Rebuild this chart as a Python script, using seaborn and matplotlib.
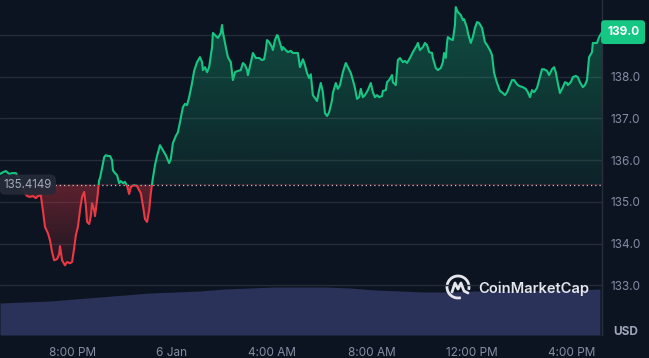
import numpy as np
import pandas as pd
import seaborn as sns
import matplotlib.pyplot as plt
import matplotlib.dates as mdates
import matplotlib.transforms as mtransforms
from matplotlib.colors import LinearSegmentedColormap
from matplotlib.patches import Rectangle, Arc
from matplotlib.lines import Line2D

# price samples: minutes after 5:00 PM (5 Jan) and price in USD
minutes = [7, 14, 21, 29, 36, 45, 55, 65, 72, 79,
           86, 93, 98, 105, 110, 115, 122, 127, 132, 137,
           144, 149, 151, 156, 163, 168, 175, 180, 185, 189,
           194, 199, 204, 209, 213, 216, 221, 225, 228, 233,
           235, 240, 245, 247, 252, 257, 261, 266, 271, 276,
           278, 283, 288, 293, 297, 302, 307, 312, 317, 321,
           329, 336, 341, 345, 350, 355, 360, 365, 369, 374,
           379, 384, 391, 398, 405, 413, 417, 422, 429, 434,
           439, 446, 451, 456, 461, 468, 473, 480, 487, 492,
           494, 499, 504, 509, 516, 518, 523, 530, 537, 540,
           542, 549, 554, 561, 566, 571, 578, 585, 590, 595,
           600, 602, 612, 614, 621, 629, 636, 641, 645, 648,
           653, 660, 662, 667, 672, 674, 679, 684, 686, 693,
           698, 705, 710, 717, 722, 727, 734, 739, 744, 749,
           753, 758, 763, 768, 773, 777, 782, 787, 792, 797,
           804, 806, 813, 818, 823, 830, 837, 842, 849, 854,
           859, 864, 869, 873, 878, 883, 890, 897, 902, 907,
           912, 917, 924, 926, 933, 936, 941, 948, 950, 957,
           962, 967, 974, 979, 984, 991, 998, 1008, 1010, 1015,
           1022, 1027, 1032, 1037, 1044, 1046, 1053, 1058, 1065, 1070,
           1073, 1077, 1080, 1082, 1089, 1094, 1099, 1101, 1106, 1113,
           1118, 1121, 1128, 1130, 1137, 1142, 1147, 1152, 1157, 1164,
           1166, 1171, 1176, 1183, 1188, 1193, 1200, 1207, 1214, 1219,
           1224, 1229, 1236, 1241, 1248, 1253, 1262, 1269, 1274, 1279,
           1284, 1289, 1296, 1301, 1308, 1313, 1320, 1325, 1332, 1337,
           1341, 1346, 1351, 1358, 1363, 1368, 1370, 1377, 1382, 1389,
           1394, 1399, 1406, 1411, 1416, 1421, 1428, 1430, 1440, 1445,
           1452]
prices = [135.67, 135.71, 135.74, 135.67, 135.69, 135.69, 135.52, 135.24, 135.14, 135.12,
          135.14, 135.09, 135.14, 135.16, 134.80, 134.40, 134.25, 134.08, 133.80, 133.60,
          133.63, 133.75, 133.94, 133.60, 133.48, 133.56, 133.53, 133.56, 133.89, 134.20,
          134.40, 134.80, 135.12, 135.24, 134.92, 134.52, 134.47, 134.66, 134.97, 134.80,
          134.66, 135.04, 135.52, 135.57, 135.81, 136.07, 136.12, 136.10, 136.10, 136.00,
          135.76, 135.69, 135.64, 135.45, 135.50, 135.45, 135.48, 135.38, 135.19, 135.36,
          135.40, 135.38, 135.28, 135.21, 134.92, 134.59, 134.52, 134.80, 135.21, 135.57,
          135.88, 136.10, 136.36, 136.24, 136.12, 135.93, 136.03, 136.41, 136.58, 136.67,
          136.91, 137.27, 137.35, 137.32, 137.51, 137.85, 138.14, 138.35, 138.47, 138.35,
          138.16, 138.23, 138.11, 138.23, 138.71, 139.05, 139.00, 138.93, 139.05, 139.24,
          139.07, 138.71, 138.47, 138.35, 137.92, 138.11, 138.14, 138.16, 138.33, 138.28,
          138.16, 138.04, 138.47, 138.57, 138.45, 138.45, 138.40, 138.42, 138.64, 138.88,
          138.83, 138.71, 138.64, 138.88, 139.00, 138.98, 138.81, 138.64, 138.71, 138.64,
          138.59, 138.62, 138.57, 138.57, 138.57, 138.23, 138.42, 138.28, 138.09, 137.97,
          138.06, 137.56, 137.49, 137.42, 137.68, 137.85, 137.63, 137.13, 137.06, 137.15,
          137.44, 137.61, 137.85, 137.71, 137.80, 138.11, 138.33, 138.23, 138.09, 137.92,
          137.73, 137.47, 137.51, 137.71, 137.51, 137.56, 137.68, 137.85, 137.63, 137.51,
          137.56, 137.51, 137.54, 137.66, 137.68, 137.87, 137.92, 138.04, 137.87, 137.80,
          138.40, 138.45, 138.35, 138.38, 138.33, 138.45, 138.59, 138.76, 138.81, 138.64,
          138.71, 138.81, 138.76, 138.59, 138.57, 138.45, 138.21, 138.16, 138.21, 138.35,
          138.57, 138.45, 138.81, 138.95, 138.90, 138.88, 139.24, 139.67, 139.55, 139.48,
          139.36, 139.38, 139.17, 139.05, 138.81, 138.95, 139.17, 139.31, 139.29, 139.17,
          139.07, 138.83, 138.76, 138.64, 138.52, 138.09, 137.85, 137.66, 137.61, 137.56,
          137.63, 137.75, 137.92, 137.92, 137.82, 137.78, 137.75, 137.71, 137.63, 137.51,
          137.68, 137.63, 137.73, 137.92, 138.18, 138.18, 138.14, 138.04, 138.18, 138.23,
          138.11, 137.85, 137.61, 137.75, 137.87, 137.85, 137.80, 137.87, 137.99, 138.02,
          137.99, 137.87, 137.75, 137.80, 137.92, 138.47, 138.59, 138.81, 138.81, 138.95,
          139.07]

# hourly volume (relative units), starting 5:07 PM
vol_minutes = list(range(7, 1448, 60))
volume = [32, 33, 34, 36, 38, 40, 42, 43, 44, 46, 47, 48, 48,
          48, 47, 45, 44, 43, 43, 44, 44, 44, 45, 45, 46]

base_price = 135.4149
last_label = '139.0'
y_ticks = [133, 134, 135, 136, 137, 138, 139]

bg = '#0d1421'
green = '#16c784'
red = '#ea3943'
grid_c = '#262b38'
text_c = '#858ca2'

sns.set_theme(style='dark')
plt.rcParams['font.family'] = ['Inter', 'DejaVu Sans']

start = pd.Timestamp('2025-01-05 17:00')
df = pd.DataFrame({'time': start + pd.to_timedelta(minutes, unit='min'), 'price': prices})
vol = pd.DataFrame({'time': start + pd.to_timedelta(vol_minutes, unit='min'), 'volume': volume})

fig = plt.figure(figsize=(6.49, 3.58), dpi=100, facecolor=bg)
axv = fig.add_axes([0, 23 / 358, 602 / 649, 52 / 358])
ax = fig.add_axes([0, 23 / 358, 602 / 649, 335 / 358], sharex=axv)
axv.set_zorder(0)
ax.set_zorder(1)
ax.patch.set_alpha(0)
axv.set_facecolor(bg)

# volume strip
axv.fill_between(vol['time'], vol['volume'], color='#2a3259', lw=0)
axv.set_ylim(0, 52)
axv.axis('off')

x0 = mdates.date2num(df['time'].iloc[0])
x1 = mdates.date2num(df['time'].iloc[-1])
ytop, ybot = 139.84, 131.81

# gradient fills clipped to the area between price and baseline
poly = ax.fill_between(df['time'], df['price'], base_price, color='none', lw=0)
clip = poly.get_paths()[0]
grad = np.linspace(0, 1, 256).reshape(-1, 1)
g_cmap = LinearSegmentedColormap.from_list('g', [(22/255, 199/255, 132/255, 0.08), (22/255, 199/255, 132/255, 0.34)])
r_cmap = LinearSegmentedColormap.from_list('r', [(234/255, 57/255, 67/255, 0.05), (234/255, 57/255, 67/255, 0.36)])
im_g = ax.imshow(grad, cmap=g_cmap, origin='lower', aspect='auto',
                 extent=[x0, x1, base_price, ytop], zorder=1)
im_g.set_clip_path(clip, transform=ax.transData)
im_r = ax.imshow(grad, cmap=r_cmap, origin='lower', aspect='auto',
                 extent=[x0, x1, 133.3, base_price], zorder=1)
im_r.set_clip_path(clip, transform=ax.transData)

# price line: green above baseline, red below
sns.lineplot(data=df, x='time', y='price', ax=ax, color=green, lw=1.5, zorder=3)
ax.lines[-1].set_clip_path(Rectangle((x0 - 1, base_price), 3, 20, transform=ax.transData))
sns.lineplot(data=df, x='time', y='price', ax=ax, color=red, lw=1.5, zorder=3)
ax.lines[-1].set_clip_path(Rectangle((x0 - 1, base_price - 20), 3, 20, transform=ax.transData))

ax.axhline(base_price, xmin=55 / 602, xmax=1, color='#c4c9d4', lw=0.9, ls=(0, (1, 2.4)), zorder=2)

ax.set_xlim(df['time'].iloc[0], df['time'].iloc[-1])
ax.set_ylim(ybot, ytop)
ax.set_xlabel('')
ax.set_ylabel('')

# axes styling
ax.yaxis.tick_right()
ax.set_yticks(y_ticks)
ax.set_yticklabels(['' if v == 139 else f'{v:.1f}' for v in y_ticks])
ax.grid(axis='y', color=grid_c, lw=1)
ax.grid(axis='x', visible=False)
for s in ['top', 'left', 'bottom']:
    ax.spines[s].set_visible(False)
ax.spines['right'].set_visible(True)
ax.spines['right'].set_color('#2a2f3c')
ax.spines['right'].set_linewidth(1)
ax.tick_params(axis='y', length=0, pad=6, labelsize=8.5, labelcolor=text_c)
ax.tick_params(axis='x', length=0, pad=9, labelsize=8.5, labelcolor=text_c)


def fmt_time(x, pos):
    d = mdates.num2date(x)
    if d.hour == 0:
        return f'{d.day} Jan'
    return f"{d.hour % 12 or 12}:{d.minute:02d} {'AM' if d.hour < 12 else 'PM'}"


ax.xaxis.set_major_locator(mdates.HourLocator(byhour=[0, 4, 8, 12, 16, 20]))
ax.xaxis.set_major_formatter(plt.FuncFormatter(fmt_time))

blend = mtransforms.blended_transform_factory(ax.transAxes, ax.transData)
ax.text(0.006, base_price, f'{base_price:.4f}', transform=blend, ha='left', va='center',
        fontsize=8.3, color='#a4aabb', zorder=6,
        bbox=dict(boxstyle='round,pad=0.35,rounding_size=0.5', fc='#252a38', ec='none', alpha=0.95))
ax.text(1.035, prices[-1], last_label, transform=blend, ha='center', va='center',
        fontsize=8.5, fontweight='bold', color='white', clip_on=False, zorder=6,
        bbox=dict(boxstyle='round,pad=0.5,rounding_size=0.3', fc=green, ec='none'))

fig.text(626 / 649, 1 - 332 / 358, 'USD', ha='center', va='center', fontsize=8.5,
         fontweight='bold', color='#a1a7bb')

# watermark
fig.text(478 / 649, 1 - 289 / 358, 'CoinMarketCap', ha='left', va='center', fontsize=10.6,
         fontweight='semibold', color='#e4e6ec')
ident = mtransforms.IdentityTransform()
cx, cy = 458, 358 - 287
fig.add_artist(Arc((cx, cy), 22, 22, theta1=-15, theta2=285, transform=ident,
                   color='#e4e6ec', lw=2.0))
fig.add_artist(Line2D([cx - 6, cx - 3, cx, cx + 3, cx + 6, cx + 10],
                      [cy - 5, cy + 4, cy - 2, cy + 4, cy - 4, cy - 6],
                      transform=ident, color='#e4e6ec', lw=2.0, solid_capstyle='round'))

fig.savefig('out.png', dpi=100, facecolor=bg)
